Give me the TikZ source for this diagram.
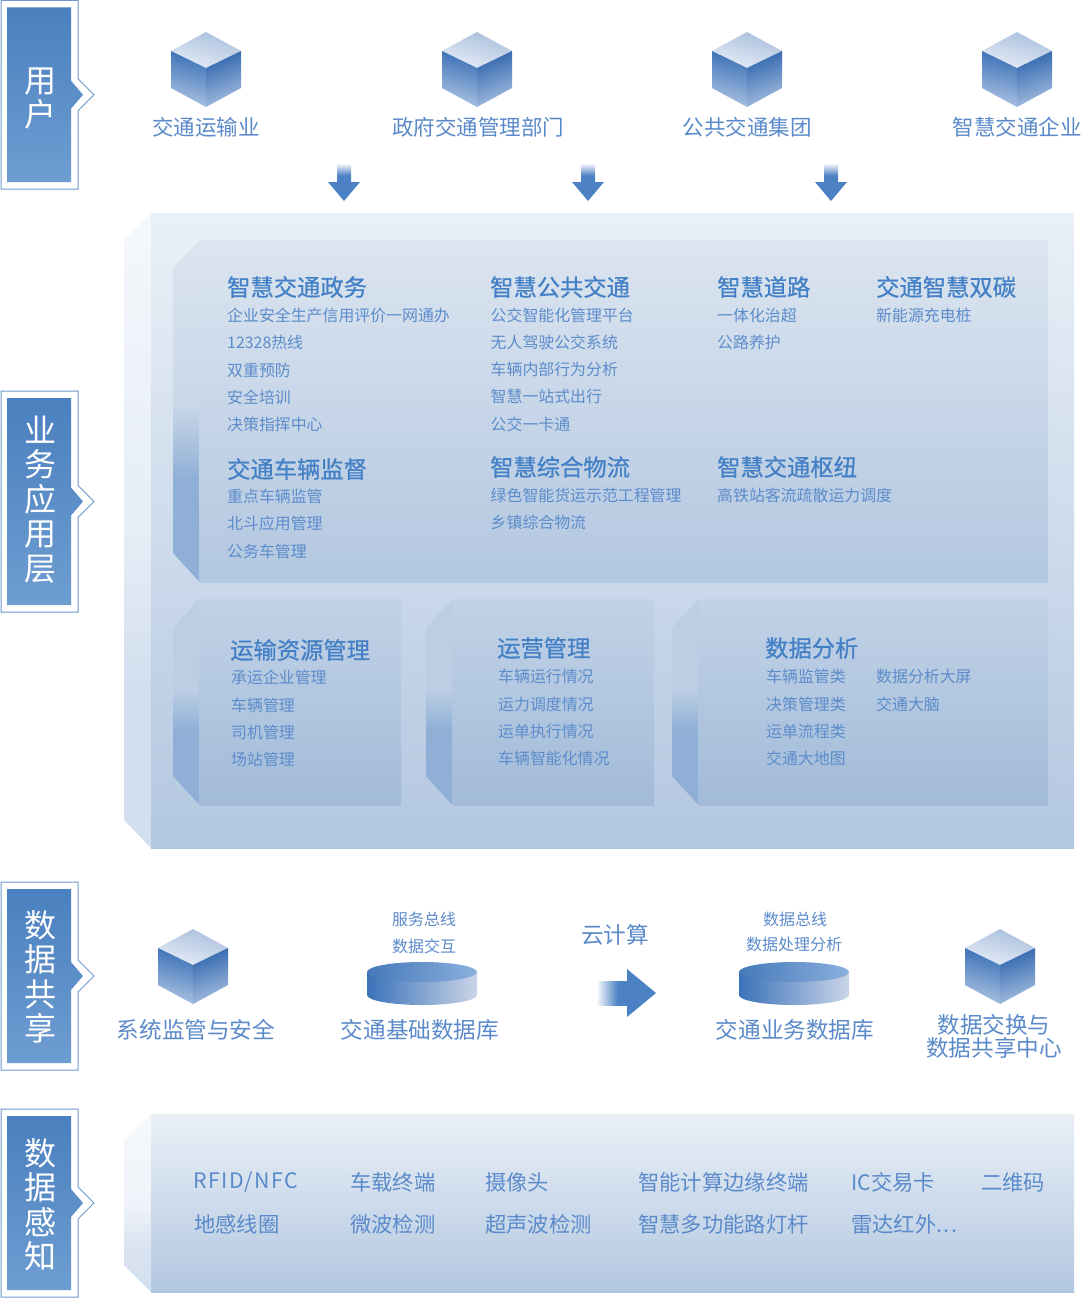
\documentclass[tikz,border=0pt]{standalone}
\usepackage{fontspec}
\setmainfont{Noto Sans CJK SC}
\newfontfamily\headfont[FakeBold=0.7]{Noto Sans CJK SC}
\newfontfamily\widefont[LetterSpace=7]{Noto Sans CJK SC}
\definecolor{txt}{HTML}{5A8ACA}
\definecolor{txtb}{HTML}{4480C6}
\definecolor{txtp}{HTML}{5C8CCB}
\definecolor{tagline}{HTML}{6C98CD}
\definecolor{tagtop}{HTML}{4A80BF}
\definecolor{tagbot}{HTML}{6E9DD1}
\definecolor{arrowc}{HTML}{4C82C4}
\definecolor{pA}{HTML}{EAF0F7}
\definecolor{pB}{HTML}{B2C7E0}
\definecolor{sA}{HTML}{F5F8FC}
\definecolor{sB}{HTML}{D3DFEF}
\definecolor{sC}{HTML}{E6EDF6}
\definecolor{sD}{HTML}{DBE4F1}
\definecolor{sE}{HTML}{F0F4FA}
\definecolor{iA}{HTML}{DCE5F0}
\definecolor{iB}{HTML}{B2C7E0}
\definecolor{iS}{HTML}{8FAFD6}
\definecolor{iM}{HTML}{C9D7E8}
\definecolor{lA}{HTML}{C1D2E6}
\definecolor{lB}{HTML}{A2BBD9}
\definecolor{lM}{HTML}{BBCEE4}
\definecolor{cubeTA}{HTML}{A9BFDD}\definecolor{cubeTB}{HTML}{E6ECF6}
\definecolor{cubeLA}{HTML}{3A70B6}\definecolor{cubeLB}{HTML}{ABC2E2}
\definecolor{cubeRA}{HTML}{2F65AD}\definecolor{cubeRB}{HTML}{A5BEE0}
\definecolor{dbSA}{HTML}{3A72B9}\definecolor{dbSB}{HTML}{CAD5E8}
\definecolor{dbTA}{HTML}{4679B9}\definecolor{dbTB}{HTML}{8AB0DD}
\pgfdeclareverticalshading{sideinner}{100bp}{color(0bp)=(iS);color(25bp)=(iS);color(40bp)=(iS);color(51bp)=(iM);color(75bp)=(iA);color(100bp)=(iA)}
\pgfdeclareverticalshading{sidelower}{100bp}{color(0bp)=(iS);color(25bp)=(iS);color(43bp)=(iS);color(53bp)=(lM);color(75bp)=(lM);color(100bp)=(lM)}
\pgfdeclareverticalshading{sidemain}{100bp}{color(0bp)=(sB);color(25bp)=(sB);color(38bp)=(sB);color(50bp)=(sC);color(75bp)=(sA);color(100bp)=(sA)}
\pgfdeclareverticalshading{sidesense}{100bp}{color(0bp)=(sB);color(25bp)=(sB);color(38bp)=(sD);color(50bp)=(sE);color(75bp)=(sA);color(100bp)=(sA)}
\pgfdeclareverticalshading{fadedown}{100bp}{color(0bp)=(arrowc);color(25bp)=(arrowc);color(42bp)=(arrowc);color(75bp)=(white);color(100bp)=(white)}
\pgfdeclarehorizontalshading{faderight}{100bp}{color(0bp)=(white);color(25bp)=(white);color(60bp)=(arrowc);color(75bp)=(arrowc);color(100bp)=(arrowc)}
\tikzset{
 x=1pt,y=-1pt,
 lab/.style={inner sep=0pt,text=txt,font=\fontsize{21.5}{24}\selectfont},
 biglab/.style={inner sep=0pt,text=txt,font=\fontsize{22.6}{23}\selectfont,align=center},
 headtext/.style={inner sep=0pt,anchor=west,text=txtb,font=\fontsize{23.3}{26}\selectfont\headfont},
 itemtext/.style={inner sep=0pt,anchor=west,text=txtp,font=\fontsize{15.9}{18}\selectfont},
 captext/.style={inner sep=0pt,text=txtp,font=\fontsize{16}{18}\selectfont},
 sense/.style={inner sep=0pt,anchor=west,text=txt,font=\fontsize{21.3}{24}\selectfont},
 tagtext/.style={inner sep=0pt,text=white,align=center,font=\fontsize{32}{34.5}\selectfont},
}
\newcommand{\cubeat}[2]{%
 \begin{scope}[shift={(#1,#2)}]
  \shade[top color=cubeTA,bottom color=cubeTB,shading angle=-15] (0,0)--(35,19)--(0,36)--(-35,19)--cycle;
  \shade[top color=cubeLA,bottom color=cubeLB,shading angle=-15] (-35,19)--(0,36)--(0,75)--(-35,56)--cycle;
  \shade[top color=cubeRA,bottom color=cubeRB,shading angle=20] (35,19)--(0,36)--(0,75)--(35,56)--cycle;
 \end{scope}}
\newcommand{\tagbox}[5]{% name, top, bottom, text offset, text
 \pgfmathsetmacro{\cy}{(#2+#3)/2}
 \draw[tagline,line width=1pt] (1,#2)--(78,#2)--(78,\cy-16)--(94,\cy)--(78,\cy+16)--(78,#3)--(1,#3)--cycle;
 \shade[top color=tagtop,bottom color=tagbot] (7,#2+7)--(71,#2+7)--(71,\cy-14)--(83,\cy)--(71,\cy+14)--(71,#3-7)--(7,#3-7)--cycle;
 \node[tagtext] (#1) at (40,\cy+#4) {#5};}
\newcommand{\downarr}[1]{%
 \shade[shading=fadedown] (#1-7,163) rectangle (#1+7,182);
 \fill[arrowc] (#1-16,182)--(#1+16,182)--(#1,201)--cycle;}
\newcommand{\dbat}[1]{%
 \shade[left color=dbSA,right color=dbSB] (#1-55,972)--(#1-55,995) arc[start angle=180,end angle=360,x radius=55,y radius=-10]--(#1+55,972)--cycle;
 \shade[left color=dbTA,right color=dbTB] (#1,972) ellipse[x radius=55,y radius=10];}
\newcommand{\lowpanel}[2]{% side x, right x
 \pgfmathsetmacro{\fx}{#1+26.5}
 \shade[shading=sidelower] (#1,628)--(\fx,599)--(\fx,805)--(#1,776)--cycle;
 \shade[top color=lA,bottom color=lB] (\fx,599) rectangle (#2,805);}
\begin{document}
\begin{tikzpicture}
\useasboundingbox (0,0) rectangle (1080,1298);
\fill[white] (0,0) rectangle (1080,1298);
% tags
\tagbox{tu}{0.5}{189}{4}{\fontsize{32}{36}\selectfont 用\\户}
\tagbox{tb}{391}{612}{-2}{业\\务\\应\\用\\层}
\tagbox{td}{882}{1070}{1}{数\\据\\共\\享}
\tagbox{ts}{1109}{1297}{2}{数\\据\\感\\知}
% cubes
\cubeat{206}{32}\cubeat{477}{32}\cubeat{747}{32}\cubeat{1017}{32}
\node[lab] (u1) at (206,127) {交通运输业};
\node[lab] (u2) at (478,127) {政府交通管理部门};
\node[lab] (u3) at (747,127) {公共交通集团};
\node[lab] (u4) at (1017,127) {智慧交通企业};
\downarr{344}\downarr{588}\downarr{831}
% main panel
\shade[shading=sidemain] (124,240)--(151,213)--(151,848)--(124,820)--cycle;
\shade[top color=pA,bottom color=pB] (151,213) rectangle (1074,848);
\shade[shading=sideinner] (173,268)--(199.5,240)--(199.5,582)--(173,553)--cycle;
\shade[top color=iA,bottom color=iB] (199.5,240) rectangle (1048,582);
\lowpanel{173}{401}\lowpanel{426}{654}\lowpanel{672}{1048}
% upper block
\node[headtext] (h1) at (227,287) {智慧交通政务};
\node[itemtext] (a1) at (227,315) {企业安全生产信用评价一网通办};
\node[itemtext] (a2) at (227,342) {12328热线};
\node[itemtext] (a3) at (227,370) {双重预防};
\node[itemtext] (a4) at (227,397) {安全培训};
\node[itemtext] (a5) at (227,424) {决策指挥中心};
\node[headtext] (h2) at (227,469) {交通车辆监督};
\node[itemtext] (b1) at (227,496) {重点车辆监管};
\node[itemtext] (b2) at (227,523) {北斗应用管理};
\node[itemtext] (b3) at (227,551) {公务车管理};
\node[headtext] (h3) at (490,287) {智慧公共交通};
\node[itemtext] (c1) at (490.5,315) {公交智能化管理平台};
\node[itemtext] (c2) at (490.5,342) {无人驾驶公交系统};
\node[itemtext] (c3) at (490.5,369) {车辆内部行为分析};
\node[itemtext] (c4) at (490.5,396) {智慧一站式出行};
\node[itemtext] (c5) at (490.5,424) {公交一卡通};
\node[headtext] (h4) at (490,467) {智慧综合物流};
\node[itemtext] (d1) at (490.5,495) {绿色智能货运示范工程管理};
\node[itemtext] (d2) at (490.5,522) {乡镇综合物流};
\node[headtext] (h5) at (717,287) {智慧道路};
\node[itemtext] (e1) at (717,315) {一体化治超};
\node[itemtext] (e2) at (717,342) {公路养护};
\node[headtext] (h6) at (876,287) {交通智慧双碳};
\node[itemtext] (f1) at (876,315) {新能源充电桩};
\node[headtext] (h7) at (717,467) {智慧交通枢纽};
\node[itemtext] (g1) at (717,495) {高铁站客流疏散运力调度};
% lower blocks
\node[headtext] (h8) at (230,650) {运输资源管理};
\node[itemtext] (i1) at (231,677) {承运企业管理};
\node[itemtext] (i2) at (231,705) {车辆管理};
\node[itemtext] (i3) at (231,732) {司机管理};
\node[itemtext] (i4) at (231,759) {场站管理};
\node[headtext] (h9) at (497,648) {运营管理};
\node[itemtext] (j1) at (498,676) {车辆运行情况};
\node[itemtext] (j2) at (498,704) {运力调度情况};
\node[itemtext] (j3) at (498,731) {运单执行情况};
\node[itemtext] (j4) at (498,758) {车辆智能化情况};
\node[headtext] (h10) at (765,648) {数据分析};
\node[itemtext] (k1) at (766,676) {车辆监管类};
\node[itemtext] (k2) at (766,704) {决策管理类};
\node[itemtext] (k3) at (766,731) {运单流程类};
\node[itemtext] (k4) at (766,758) {交通大地图};
\node[itemtext] (k5) at (876,676) {数据分析大屏};
\node[itemtext] (k6) at (876,704) {交通大脑};
% data sharing
\cubeat{193}{929}\cubeat{1000}{929}
\dbat{422}\dbat{794}
\node[biglab] (m1) at (196,1030) {系统监管与安全};
\node[biglab] (m2) at (420,1030) {交通基础数据库};
\node[biglab] (m3) at (795,1030) {交通业务数据库};
\node[biglab] (m4) at (994,1036.5) {数据交换与\\数据共享中心};
\node[captext] (n1) at (424,919) {服务总线};
\node[captext] (n2) at (424,946) {数据交互};
\node[captext] (n3) at (795,919) {数据总线};
\node[captext] (n4) at (794,944) {数据处理分析};
\node[biglab] (n5) at (615,935) {云计算};
\shade[shading=faderight] (596,981) rectangle (627,1005);
\fill[arrowc] (627,969)--(656,993)--(627,1017)--cycle;
% sensing panel
\shade[shading=sidesense] (124,1141)--(151,1114)--(151,1292)--(124,1265)--cycle;
\shade[top color=pA,bottom color=pB] (151,1114) rectangle (1074,1292);
\node[sense] (s1) at (193,1182) {\widefont RFID/NFC};
\node[sense] (s2) at (350,1182) {车载终端};
\node[sense] (s3) at (485,1182) {摄像头};
\node[sense] (s4) at (638,1182) {智能计算边缘终端};
\node[sense] (s5) at (851,1182) {IC交易卡};
\node[sense] (s6) at (981,1182) {二维码};
\node[sense] (t1) at (194,1224) {地感线圈};
\node[sense] (t2) at (350,1224) {微波检测};
\node[sense] (t3) at (485,1224) {超声波检测};
\node[sense] (t4) at (638,1224) {智慧多功能路灯杆};
\node[sense] (t5) at (851,1224) {雷达红外{\widefont ...}};
\end{tikzpicture}
\end{document}
